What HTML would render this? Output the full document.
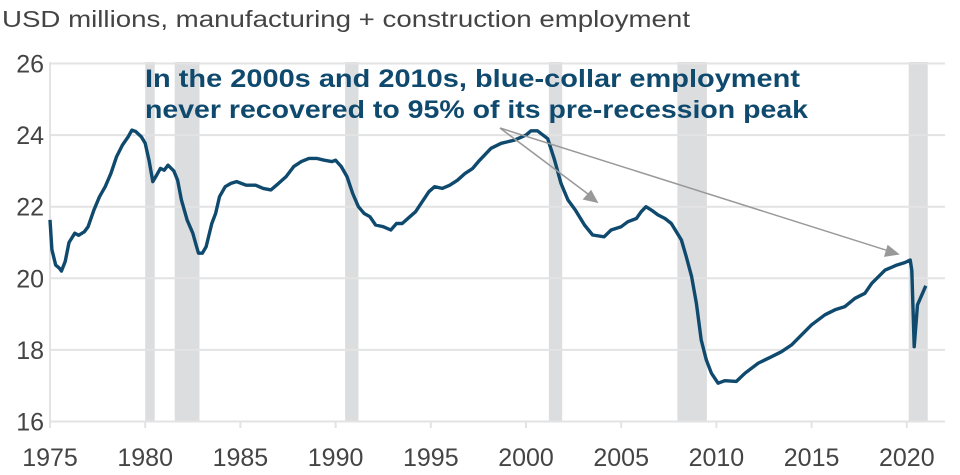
<!DOCTYPE html>
<html><head><meta charset="utf-8"><style>
body{margin:0;background:#fff;}
svg{display:block;font-family:"Liberation Sans",Arial,sans-serif;}
</style></head><body>
<svg id="chart" width="960" height="475" viewBox="0 0 960 475">
<text x="2" y="27" font-size="23" fill="#444" textLength="688" lengthAdjust="spacingAndGlyphs">USD millions, manufacturing + construction employment</text>
<g id="rec"></g><g id="grid"></g><g id="axes"></g>
<path id="line" fill="none" stroke="#0f4a6e" stroke-width="3.4" stroke-linejoin="round"/>
<g stroke="#999" stroke-width="1.5" fill="#999">
<line x1="500" y1="128" x2="592" y2="197"/><polygon points="597,202 584,199 591,191"/>
<line x1="500" y1="128" x2="892" y2="252"/><polygon points="898,254 885,256 888,246"/>
</g>
<text font-size="25" font-weight="bold" fill="#0f4a6e"><tspan x="145" y="87" textLength="655" lengthAdjust="spacingAndGlyphs">In the 2000s and 2010s, blue-collar employment</tspan><tspan x="145" y="118" textLength="663" lengthAdjust="spacingAndGlyphs">never recovered to 95% of its pre-recession peak</tspan></text>
</svg>
<script>
const years=[1975.0,1975.1,1975.3,1975.5,1975.6,1975.8,1976.0,1976.3,1976.5,1976.8,1977.0,1977.3,1977.6,1977.9,1978.2,1978.5,1978.8,1979.1,1979.3,1979.5,1979.8,1980.0,1980.2,1980.4,1980.6,1980.8,1981.0,1981.2,1981.5,1981.7,1981.9,1982.2,1982.5,1982.7,1982.8,1983.0,1983.2,1983.5,1983.7,1983.9,1984.2,1984.5,1984.8,1985.3,1985.8,1986.2,1986.6,1987.0,1987.4,1987.8,1988.2,1988.6,1989.0,1989.4,1989.8,1990.0,1990.3,1990.6,1990.9,1991.2,1991.5,1991.8,1992.1,1992.5,1992.9,1993.2,1993.5,1993.9,1994.2,1994.5,1994.9,1995.2,1995.6,1996.0,1996.4,1996.8,1997.2,1997.5,1998.16,1998.7,1999.4,2000.0,2000.26,2000.6,2001.14,2001.5,2001.84,2002.2,2002.6,2003.07,2003.5,2004.1,2004.47,2005.0,2005.35,2005.8,2006.05,2006.3,2006.6,2006.93,2007.3,2007.63,2007.9,2008.16,2008.42,2008.7,2008.95,2009.2,2009.47,2009.74,2010.09,2010.44,2011.05,2011.5,2012.2,2012.9,2013.42,2013.95,2014.47,2015.0,2015.7,2016.23,2016.75,2017.28,2017.8,2018.16,2018.86,2019.47,2019.91,2020.18,2020.26,2020.39,2020.56,2021.0];
const values=[21.63,20.8,20.37,20.28,20.2,20.47,21.0,21.26,21.2,21.3,21.44,21.9,22.28,22.56,22.93,23.4,23.72,23.95,24.14,24.1,23.95,23.77,23.3,22.7,22.88,23.07,23.02,23.16,23.0,22.74,22.19,21.63,21.26,20.88,20.7,20.7,20.88,21.53,21.81,22.28,22.56,22.65,22.7,22.6,22.6,22.51,22.47,22.65,22.84,23.12,23.26,23.35,23.35,23.3,23.26,23.3,23.12,22.84,22.37,22.0,21.81,21.72,21.49,21.44,21.35,21.53,21.53,21.72,21.86,22.1,22.42,22.56,22.51,22.6,22.74,22.93,23.07,23.26,23.63,23.77,23.86,24.0,24.12,24.12,23.9,23.3,22.65,22.19,21.9,21.49,21.21,21.16,21.35,21.44,21.58,21.67,21.86,22.0,21.9,21.77,21.67,21.53,21.3,21.07,20.6,20.05,19.3,18.28,17.72,17.35,17.07,17.14,17.12,17.35,17.63,17.81,17.95,18.14,18.42,18.7,18.98,19.12,19.21,19.44,19.58,19.86,20.23,20.37,20.44,20.51,20.23,18.09,19.26,19.79];
const recStart=[1980.0,1981.55,1990.5,2001.2,2007.95,2020.1];
const recEnd=[1980.5,1982.85,1991.2,2001.9,2009.5,2021.1];
const yTicks=[16,18,20,22,24,26];
const xTicks=[1975,1980,1985,1990,1995,2000,2005,2010,2015,2020];
const NS='http://www.w3.org/2000/svg';
const X=y=>50+(y-1975)*19.04;
const Y=v=>421.5-(v-16)*35.8;
function mk(t,a,p){const e=document.createElementNS(NS,t);for(const k in a)e.setAttribute(k,a[k]);p.appendChild(e);return e;}
const rec=document.getElementById('rec');
recStart.forEach((s,i)=>{
 const r=mk('rect',{x:X(s),y:62,width:X(recEnd[i])-X(s),height:421.5-62,fill:'#dcdddf'},rec);
 
 
});
const g=document.getElementById('grid');
yTicks.forEach(v=>{
 const l=mk('line',{x1:50,x2:945,y1:Y(v),y2:Y(v),stroke:'#e3e3e3','stroke-width':2},g);
 
 
 const t=mk('text',{x:44,y:Y(v)+9,'text-anchor':'end','font-size':25,fill:'#444'},g);
 t.textContent=v;
 
 
});
const ax=document.getElementById('axes');
mk('line',{x1:50,x2:50,y1:62,y2:428,stroke:'#e3e3e3','stroke-width':2},ax);
xTicks.forEach(y=>{
 mk('line',{x1:X(y),x2:X(y),y1:421,y2:428,stroke:'#e3e3e3','stroke-width':2},ax);
 const t=mk('text',{x:X(y),y:466,'text-anchor':'middle','font-size':25,fill:'#444'},ax);
 t.textContent=y;
 
 
});
document.getElementById('line').setAttribute('d',years.map((y,i)=>(i?'L':'M')+X(y).toFixed(1)+','+Y(values[i]).toFixed(1)).join(''));
</script>
</body></html>
